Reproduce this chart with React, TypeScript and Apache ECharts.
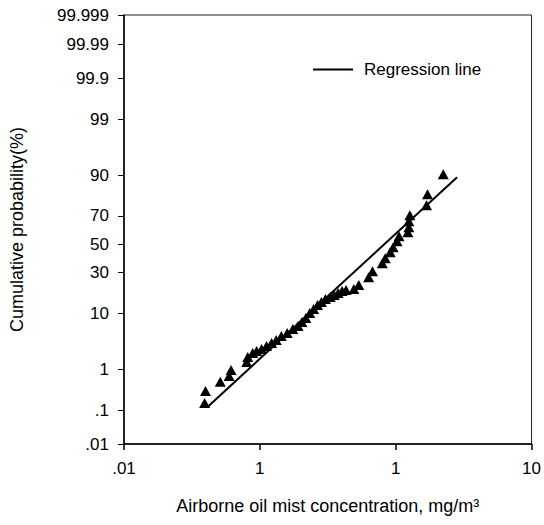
import React, { useEffect, useRef } from 'react';
import * as echarts from 'echarts';

// Airborne oil mist concentration (mg/m3) of each sample, sorted
const concentration = [
  0.0392, 0.0398, 0.0511, 0.0594, 0.0614, 0.0801, 0.0815, 0.0886, 0.0947, 0.103,
  0.112, 0.122, 0.132, 0.144, 0.159, 0.175, 0.191, 0.204, 0.218, 0.233,
  0.249, 0.266, 0.284, 0.304, 0.330, 0.353, 0.377, 0.403, 0.431, 0.492,
  0.535, 0.632, 0.675, 0.797, 0.838, 0.911, 0.958, 1.023, 1.058, 1.229,
  1.250, 1.250, 1.271, 1.687, 1.715, 2.239,
];
// Cumulative probability (%) of each sample
const cumulativeProb = [
  0.157, 0.315, 0.52, 0.71, 0.96, 1.41, 1.79, 2.14, 2.34, 2.55,
  2.90, 3.29, 3.72, 4.36, 4.90, 5.71, 6.37, 7.35, 8.45, 9.98,
  11.35, 12.84, 14.05, 15.33, 16.23, 17.16, 18.12, 19.12, 19.63, 20.15,
  22.30, 26.98, 30.79, 36.20, 39.74, 44.09, 47.78, 52.22, 55.91, 58.82,
  62.40, 66.55, 70.51, 76.57, 82.36, 90.34,
];
// Regression line end points
const regressionConc = [0.0412, 2.83];
const regressionProb = [0.122, 89.35];

const yTickProbs = [0.01, 0.1, 1, 10, 30, 50, 70, 90, 99, 99.9, 99.99, 99.999];
const yTickLabels = ['.01', '.1', '1', '10', '30', '50', '70', '90', '99', '99.9', '99.99', '99.999'];
const xTickValues = [0.01, 0.1, 1, 10];
const xTickLabels = ['.01', '1', '1', '10'];

function probit(p: number): number {
  const a = [-3.969683028665376e1, 2.209460984245205e2, -2.759285104469687e2, 1.38357751867269e2, -3.066479806614716e1, 2.506628277459239];
  const b = [-5.447609879822406e1, 1.615858368580409e2, -1.556989798598866e2, 6.680131188771972e1, -1.328068155288572e1];
  const c = [-7.784894002430293e-3, -3.223964580411365e-1, -2.400758277161838, -2.549732539343734, 4.374664141464968, 2.938163982698783];
  const d = [7.784695709041462e-3, 3.224671290700398e-1, 2.445134137142996, 3.754408661907416];
  const pl = 0.02425;
  const ph = 1 - pl;
  let q: number;
  let r: number;
  if (p < pl) {
    q = Math.sqrt(-2 * Math.log(p));
    return (((((c[0] * q + c[1]) * q + c[2]) * q + c[3]) * q + c[4]) * q + c[5]) / ((((d[0] * q + d[1]) * q + d[2]) * q + d[3]) * q + 1);
  }
  if (p <= ph) {
    q = p - 0.5;
    r = q * q;
    return ((((((a[0] * r + a[1]) * r + a[2]) * r + a[3]) * r + a[4]) * r + a[5]) * q) / (((((b[0] * r + b[1]) * r + b[2]) * r + b[3]) * r + b[4]) * r + 1);
  }
  q = Math.sqrt(-2 * Math.log(1 - p));
  return -(((((c[0] * q + c[1]) * q + c[2]) * q + c[3]) * q + c[4]) * q + c[5]) / ((((d[0] * q + d[1]) * q + d[2]) * q + d[3]) * q + 1);
}

const FONT = "'Liberation Sans', Arial, sans-serif";

export default function App() {
  const ref = useRef<HTMLDivElement>(null);
  useEffect(() => {
    if (!ref.current) return;
    const chart = echarts.init(ref.current, undefined, { renderer: 'svg' });
    const yTickZ = yTickProbs.map((p) => probit(p / 100));
    const scatterData = concentration.map((c, i) => [c, probit(cumulativeProb[i] / 100)]);
    const lineData = regressionConc.map((c, i) => [c, probit(regressionProb[i] / 100)]);
    chart.setOption({
      animation: false,
      backgroundColor: '#fff',
      textStyle: { fontFamily: FONT },
      grid: {
        left: 117,
        right: 11,
        top: 15,
        bottom: 81,
        show: true,
        borderColor: '#222',
        borderWidth: 1,
      },
      legend: {
        data: ['Regression line'],
        left: 308,
        top: 56,
        icon: 'rect',
        itemWidth: 40,
        itemHeight: 2,
        itemStyle: { color: '#000' },
        textStyle: { fontSize: 17, color: '#000', fontFamily: FONT, padding: [0, 0, 0, 6] },
      },
      xAxis: {
        type: 'log',
        logBase: 10,
        min: 0.01,
        max: 10,
        name: 'Airborne oil mist concentration, mg/m³',
        nameLocation: 'middle',
        nameGap: 53,
        nameTextStyle: { fontSize: 18, color: '#000', fontFamily: FONT },
        axisLine: { onZero: false, lineStyle: { color: '#000', width: 1.5 } },
        axisTick: { length: 6, lineStyle: { color: '#000', width: 1.5 } },
        minorTick: { show: false },
        splitLine: { show: false },
        axisLabel: {
          fontSize: 17,
          color: '#000',
          fontFamily: FONT,
          margin: 16,
          formatter: (v: number) => {
            let best = 0;
            xTickValues.forEach((t, i) => {
              if (Math.abs(Math.log10(t) - Math.log10(v)) < Math.abs(Math.log10(xTickValues[best]) - Math.log10(v))) best = i;
            });
            return xTickLabels[best];
          },
        },
      },
      yAxis: {
        type: 'value',
        min: probit(0.0001),
        max: probit(0.99999),
        name: 'Cumulative probability(%)',
        nameLocation: 'middle',
        nameGap: 98,
        nameRotate: 90,
        nameTextStyle: { fontSize: 18, color: '#000', fontFamily: FONT },
        axisLine: { onZero: false, lineStyle: { color: '#000', width: 1.5 } },
        axisTick: { length: 6, customValues: yTickZ, lineStyle: { color: '#000', width: 1 } },
        splitLine: { show: false },
        axisLabel: {
          fontSize: 17,
          color: '#000',
          fontFamily: FONT,
          margin: 15,
          showMinLabel: true,
          showMaxLabel: true,
          customValues: yTickZ,
          formatter: (v: number) => {
            let best = 0;
            yTickZ.forEach((z, i) => {
              if (Math.abs(z - v) < Math.abs(yTickZ[best] - v)) best = i;
            });
            return yTickLabels[best];
          },
        },
      },
      series: [
        {
          name: 'Data',
          type: 'scatter',
          data: scatterData,
          symbol: 'triangle',
          symbolSize: [11, 10],
          itemStyle: { color: '#000', opacity: 1 },
        },
        {
          name: 'Regression line',
          type: 'line',
          data: lineData,
          symbol: 'none',
          itemStyle: { color: '#000' },
          lineStyle: { color: '#000', width: 2 },
        },
      ],
    });
    return () => chart.dispose();
  }, []);
  return (
    <div
      ref={ref}
      style={{ position: 'fixed', left: 0, top: 0, width: 544, height: 525, background: '#fff' }}
    />
  );
}
